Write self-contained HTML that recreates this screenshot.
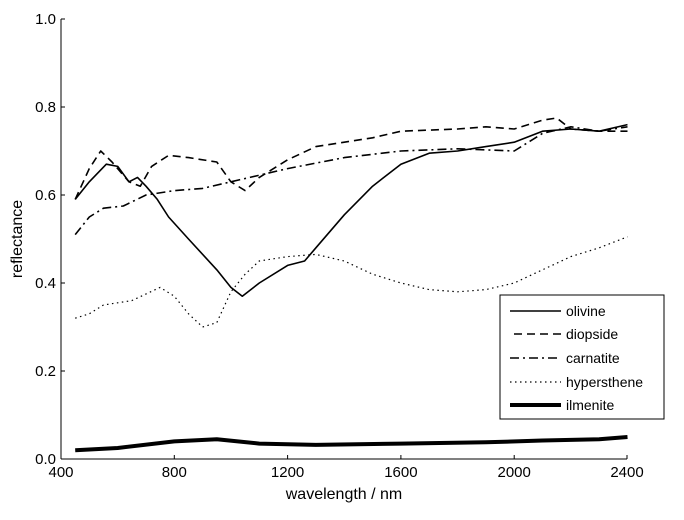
<!DOCTYPE html>
<html><head><style>
body{margin:0;background:#fff;}
svg text{font-family:"Liberation Sans",Arial,sans-serif;fill:#000;}
</style></head><body>
<svg id="s" width="684" height="515" xmlns="http://www.w3.org/2000/svg">
<rect width="684" height="515" fill="#fff"/>
<g stroke="#000" stroke-width="1" fill="none">
<line x1="61" y1="19" x2="61" y2="459"/>
<line x1="61" y1="459" x2="627" y2="459"/>
<line x1="61" y1="19" x2="65" y2="19"/><line x1="61" y1="107" x2="65" y2="107"/>
<line x1="61" y1="195" x2="65" y2="195"/><line x1="61" y1="283" x2="65" y2="283"/>
<line x1="61" y1="371" x2="65" y2="371"/>
<line x1="174.3" y1="459" x2="174.3" y2="455"/><line x1="287.6" y1="459" x2="287.6" y2="455"/>
<line x1="400.9" y1="459" x2="400.9" y2="455"/><line x1="514.2" y1="459" x2="514.2" y2="455"/>
<line x1="627" y1="459" x2="627" y2="455"/>
</g>
<g font-size="15" text-anchor="end">
<text x="56" y="24">1.0</text><text x="56" y="112">0.8</text><text x="56" y="200">0.6</text>
<text x="56" y="288">0.4</text><text x="56" y="376">0.2</text><text x="56" y="464">0.0</text>
</g>
<g font-size="15" text-anchor="middle">
<text x="61" y="477">400</text><text x="174.3" y="477">800</text><text x="287.6" y="477">1200</text>
<text x="400.9" y="477">1600</text><text x="514.2" y="477">2000</text><text x="627" y="477">2400</text>
<text x="344" y="499" font-size="16">wavelength / nm</text>
<text transform="translate(22,239) rotate(-90)" font-size="16">reflectance</text>
</g>
<g id="series" fill="none" stroke="#000"></g>
<rect x="500" y="295" width="164" height="124" fill="#fff" stroke="#000"/>
<g stroke="#000" fill="none">
<line x1="510" y1="311" x2="561" y2="311" stroke-width="1.6"/>
<line x1="514" y1="334" x2="561" y2="334" stroke-width="1.6" stroke-dasharray="8,5"/>
<line x1="510" y1="358" x2="561" y2="358" stroke-width="1.6" stroke-dasharray="9,4,2,4"/>
<line x1="510" y1="382" x2="561" y2="382" stroke-width="1.2" stroke-dasharray="1.5,3.5"/>
<line x1="510" y1="405" x2="561" y2="405" stroke-width="4"/>
</g>
<g font-size="14">
<text x="566" y="316">olivine</text><text x="566" y="339">diopside</text>
<text x="566" y="363">carnatite</text><text x="566" y="387">hypersthene</text>
<text x="566" y="410">ilmenite</text>
</g>
</svg>
<script>
var X=w=>61+(w-400)*0.28325, Y=r=>459-r*440;
var data=[
[[450,.59,500,.63,560,.67,600,.665,640,.63,670,.64,700,.62,740,.59,780,.55,850,.50,950,.43,1000,.39,1040,.37,1100,.40,1200,.44,1260,.45,1300,.48,1400,.555,1500,.62,1600,.67,1700,.695,1800,.70,1900,.71,2000,.72,2100,.745,2200,.75,2300,.745,2400,.76],"1.6",""],
[[450,.59,500,.66,540,.70,580,.675,640,.63,680,.62,720,.665,780,.69,850,.685,950,.675,1000,.63,1050,.61,1100,.64,1200,.68,1300,.71,1400,.72,1500,.73,1600,.745,1800,.75,1900,.755,2000,.75,2100,.77,2150,.775,2200,.75,2300,.745,2400,.745],"1.6","8,5"],
[[450,.51,500,.55,550,.57,620,.575,700,.60,800,.61,900,.615,1000,.63,1100,.645,1200,.66,1400,.685,1600,.70,1800,.705,2000,.70,2100,.74,2200,.755,2300,.745,2400,.755],"1.6","9,4,2,4"],
[[450,.32,500,.33,550,.35,650,.36,750,.39,800,.37,850,.33,900,.30,950,.31,1000,.38,1050,.42,1100,.45,1200,.46,1300,.465,1400,.45,1500,.42,1600,.40,1700,.385,1800,.38,1900,.385,2000,.40,2100,.43,2200,.46,2300,.48,2400,.505],"1.2","1.5,3.5"],
[[450,.02,600,.025,800,.04,950,.045,1100,.035,1300,.032,1600,.035,1900,.038,2100,.042,2300,.045,2400,.05],"4",""]
];
var g=document.getElementById("series"),h="";
data.forEach(d=>{var p=[];for(var i=0;i<d[0].length;i+=2)p.push(X(d[0][i]).toFixed(1)+","+Y(d[0][i+1]).toFixed(1));
h+='<polyline points="'+p.join(" ")+'" stroke-width="'+d[1]+'"'+(d[2]?' stroke-dasharray="'+d[2]+'"':'')+' stroke-linejoin="round"/>';});
g.innerHTML=h;
</script>
</body></html>
